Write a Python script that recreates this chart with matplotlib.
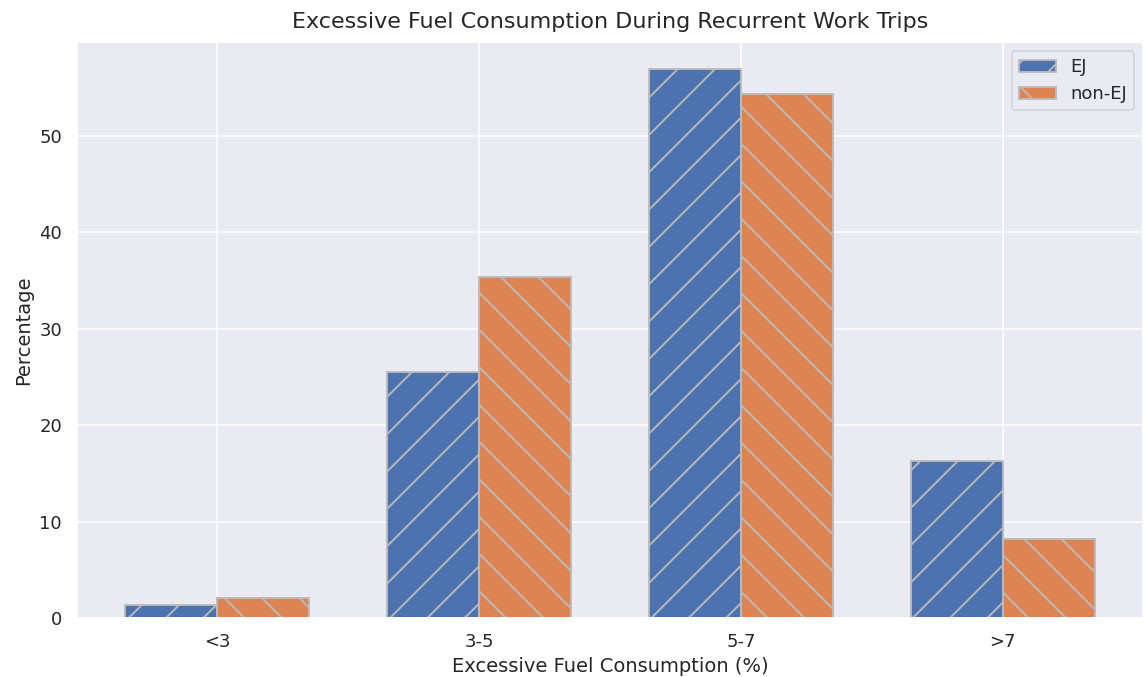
import numpy as np
import seaborn as sns
import matplotlib
matplotlib.use('Agg')
import matplotlib.pyplot as plt

categories = ['<3', '3-5', '5-7', '>7']
ej = [1.35, 25.5, 56.9, 16.3]
non_ej = [2.1, 35.4, 54.4, 8.2]

sns.set_theme(style='darkgrid')
plt.rcParams['hatch.color'] = '#bbbbbb'
plt.rcParams['hatch.linewidth'] = 1.2

# slightly higher dpi gives sparser hatching like the original
dpi = 112
s = 100 / dpi
fig, ax = plt.subplots(figsize=(1147 / dpi, 677 / dpi), dpi=dpi)
x = np.arange(len(categories))
w = 0.35
ax.bar(x - w/2, ej, w, label='EJ', color='#4c72b0', edgecolor='#bbbbbb', linewidth=1.2, hatch='/')
ax.bar(x + w/2, non_ej, w, label='non-EJ', color='#dd8452', edgecolor='#bbbbbb', linewidth=1.2, hatch='\\')

ax.set_xticks(x)
ax.set_xticklabels(categories, fontsize=13 * s)
ax.tick_params(axis='y', labelsize=13 * s)
ax.set_xlabel('Excessive Fuel Consumption (%)', fontsize=14 * s)
ax.set_ylabel('Percentage', fontsize=14 * s)
ax.set_title('Excessive Fuel Consumption During Recurrent Work Trips', fontsize=16 * s, pad=9)
ax.legend(fontsize=13 * s)
fig.subplots_adjust(left=0.067, right=0.9965, top=0.938, bottom=0.087)
plt.savefig('out.png')
